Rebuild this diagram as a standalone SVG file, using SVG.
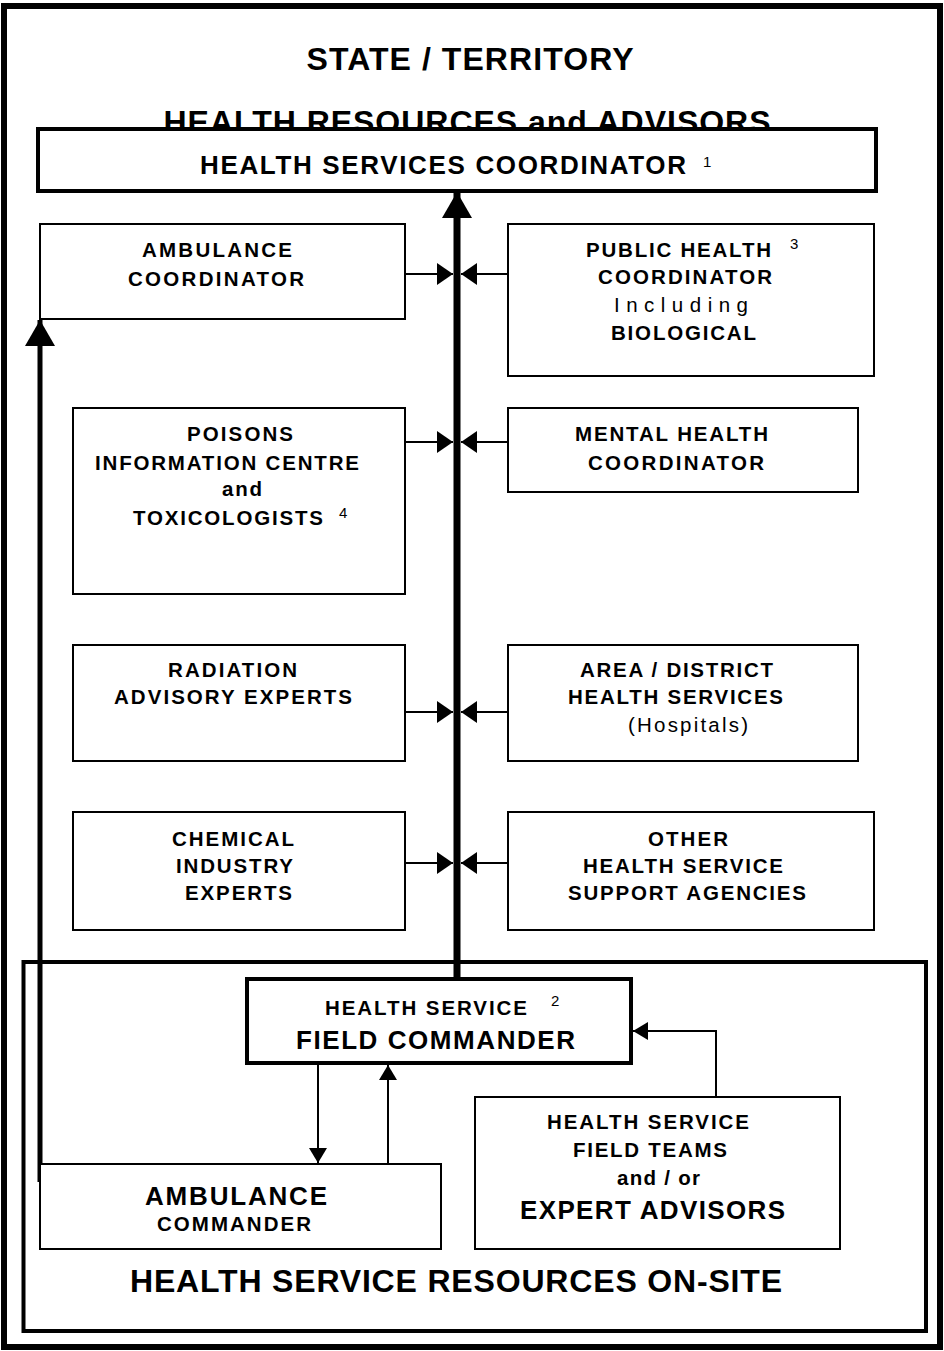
<svg xmlns="http://www.w3.org/2000/svg" width="944" height="1351" viewBox="0 0 944 1351">
<style>
text{font-family:"Liberation Sans",Arial,sans-serif;font-weight:bold;fill:#000;text-anchor:middle}
.s{font-size:20.5px}
.n{font-weight:normal}
.m{font-size:26px}
.l{font-size:32px}
.sup{font-size:15px;font-weight:normal;text-anchor:start}
.box{fill:#fff;stroke:#000;stroke-width:2}
.tbox{fill:#fff;stroke:#000;stroke-width:4}
.frame{fill:none;stroke:#000}
.c{fill:none;stroke:#000;stroke-width:2}
</style>
<defs>
<marker id="ah" markerUnits="userSpaceOnUse" markerWidth="16" markerHeight="22" refX="16" refY="11" orient="auto"><path d="M0,0 L16,11 L0,22 Z"/></marker>
<marker id="big" markerUnits="userSpaceOnUse" markerWidth="26" markerHeight="30" refX="26" refY="15" orient="auto"><path d="M0,0 L26,15 L0,30 Z"/></marker>
<marker id="sm" markerUnits="userSpaceOnUse" markerWidth="15" markerHeight="18" refX="15" refY="9" orient="auto"><path d="M0,0 L15,9 L0,18 Z"/></marker>
</defs>
<rect x="0" y="0" width="944" height="1351" fill="#fff"/>
<rect class="frame" x="4" y="6" width="936" height="1341" stroke-width="6"/>
<g id="title">
<text class="l" x="470" y="70" textLength="327" lengthAdjust="spacing">STATE / TERRITORY</text>
<text class="l" x="467" y="133" textLength="607" lengthAdjust="spacing">HEALTH RESOURCES and ADVISORS</text>
</g>
<g id="onsite">
<rect class="frame" x="23.5" y="962" width="902.5" height="369" stroke-width="4"/>
<text class="l" x="456" y="1292" font-size="30" textLength="652" lengthAdjust="spacing">HEALTH SERVICE RESOURCES ON-SITE</text>
</g>
<g id="connectors">
<line x1="457" y1="978" x2="457" y2="192" stroke="#000" stroke-width="7" marker-end="url(#big)"/>
<line x1="40" y1="1182" x2="40" y2="320" stroke="#000" stroke-width="5" marker-end="url(#big)"/>
<line class="c" x1="405" y1="274" x2="453" y2="274" marker-end="url(#ah)"/>
<line class="c" x1="508" y1="274" x2="461" y2="274" marker-end="url(#ah)"/>
<line class="c" x1="405" y1="442" x2="453" y2="442" marker-end="url(#ah)"/>
<line class="c" x1="508" y1="442" x2="461" y2="442" marker-end="url(#ah)"/>
<line class="c" x1="405" y1="712" x2="453" y2="712" marker-end="url(#ah)"/>
<line class="c" x1="508" y1="712" x2="461" y2="712" marker-end="url(#ah)"/>
<line class="c" x1="405" y1="863" x2="453" y2="863" marker-end="url(#ah)"/>
<line class="c" x1="508" y1="863" x2="461" y2="863" marker-end="url(#ah)"/>
<line class="c" x1="318" y1="1064" x2="318" y2="1163" marker-end="url(#sm)"/>
<line class="c" x1="388" y1="1163" x2="388" y2="1065" marker-end="url(#sm)"/>
<polyline class="c" points="716,1097 716,1031 633,1031" marker-end="url(#sm)"/>
</g>
<g id="hsc">
<rect class="tbox" x="38" y="129" width="838" height="62"/>
<text class="m" x="443" y="174" font-size="25" textLength="486" lengthAdjust="spacing">HEALTH SERVICES COORDINATOR</text>
<text class="sup" x="703" y="167">1</text>
</g>
<g id="ambcoord">
<rect class="box" x="40" y="224" width="365" height="95"/>
<text class="s" x="217" y="257" textLength="150" lengthAdjust="spacing">AMBULANCE</text>
<text class="s" x="216" y="286" textLength="176" lengthAdjust="spacing">COORDINATOR</text>
</g>
<g id="pubhealth">
<rect class="box" x="508" y="224" width="366" height="152"/>
<text class="s" x="678.5" y="257" textLength="185" lengthAdjust="spacing">PUBLIC HEALTH</text>
<text class="sup" x="790" y="249">3</text>
<text class="s" x="685" y="284" textLength="174" lengthAdjust="spacing">COORDINATOR</text>
<text class="s n" x="681" y="312" textLength="134" lengthAdjust="spacing">Including</text>
<text class="s" x="683.5" y="340" textLength="145" lengthAdjust="spacing">BIOLOGICAL</text>
</g>
<g id="poisons">
<rect class="box" x="73" y="408" width="332" height="186"/>
<text class="s" x="240" y="441" textLength="106" lengthAdjust="spacing">POISONS</text>
<text class="s" x="227" y="470" textLength="264" lengthAdjust="spacing">INFORMATION CENTRE</text>
<text class="s" x="242" y="496" textLength="40" lengthAdjust="spacing">and</text>
<text class="s" x="228" y="525" textLength="190" lengthAdjust="spacing">TOXICOLOGISTS</text>
<text class="sup" x="339" y="518">4</text>
</g>
<g id="mental">
<rect class="box" x="508" y="408" width="350" height="84"/>
<text class="s" x="671.5" y="441" textLength="193" lengthAdjust="spacing">MENTAL HEALTH</text>
<text class="s" x="676" y="470" textLength="176" lengthAdjust="spacing">COORDINATOR</text>
</g>
<g id="radiation">
<rect class="box" x="73" y="645" width="332" height="116"/>
<text class="s" x="232.5" y="677" textLength="129" lengthAdjust="spacing">RADIATION</text>
<text class="s" x="233" y="704" textLength="238" lengthAdjust="spacing">ADVISORY EXPERTS</text>
</g>
<g id="area">
<rect class="box" x="508" y="645" width="350" height="116"/>
<text class="s" x="676.5" y="677" textLength="193" lengthAdjust="spacing">AREA / DISTRICT</text>
<text class="s" x="675.5" y="704" textLength="215" lengthAdjust="spacing">HEALTH SERVICES</text>
<text class="s n" x="688" y="732" textLength="120" lengthAdjust="spacing">(Hospitals)</text>
</g>
<g id="chemical">
<rect class="box" x="73" y="812" width="332" height="118"/>
<text class="s" x="233" y="846" textLength="122" lengthAdjust="spacing">CHEMICAL</text>
<text class="s" x="234.5" y="873" textLength="117" lengthAdjust="spacing">INDUSTRY</text>
<text class="s" x="238.5" y="900" textLength="107" lengthAdjust="spacing">EXPERTS</text>
</g>
<g id="other">
<rect class="box" x="508" y="812" width="366" height="118"/>
<text class="s" x="688" y="846" textLength="80" lengthAdjust="spacing">OTHER</text>
<text class="s" x="683" y="873" textLength="200" lengthAdjust="spacing">HEALTH SERVICE</text>
<text class="s" x="687" y="900" textLength="238" lengthAdjust="spacing">SUPPORT AGENCIES</text>
</g>
<g id="fieldcmd">
<rect class="tbox" x="247" y="979" width="384" height="84"/>
<text class="s" x="426" y="1015" textLength="202" lengthAdjust="spacing">HEALTH SERVICE</text>
<text class="sup" x="551" y="1006">2</text>
<text class="m" x="435.5" y="1049" textLength="279" lengthAdjust="spacing">FIELD COMMANDER</text>
</g>
<g id="ambcmd">
<rect class="box" x="40" y="1164" width="401" height="85"/>
<text class="m" x="236" y="1205" font-size="27" textLength="182" lengthAdjust="spacing">AMBULANCE</text>
<text class="s" x="234" y="1231" textLength="154" lengthAdjust="spacing">COMMANDER</text>
</g>
<g id="fieldteams">
<rect class="box" x="475" y="1097" width="365" height="152"/>
<text class="s" x="648" y="1129" textLength="202" lengthAdjust="spacing">HEALTH SERVICE</text>
<text class="s" x="650" y="1157" textLength="154" lengthAdjust="spacing">FIELD TEAMS</text>
<text class="s" x="658.5" y="1185" textLength="83" lengthAdjust="spacing">and / or</text>
<text class="m" x="652.5" y="1219" textLength="265" lengthAdjust="spacing">EXPERT ADVISORS</text>
</g>
</svg>
